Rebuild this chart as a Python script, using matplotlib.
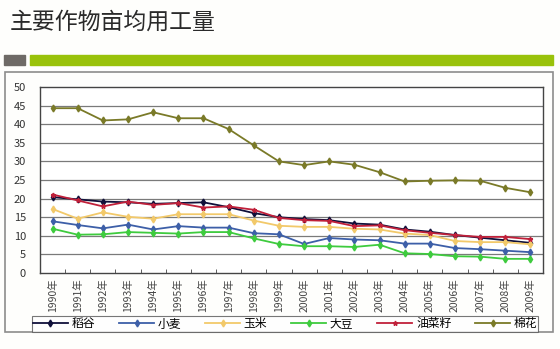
import matplotlib
matplotlib.use("Agg")
import matplotlib.pyplot as plt
from matplotlib.patches import Rectangle
import numpy as np

plt.rcParams['font.family'] = ['Noto Sans CJK SC', 'DejaVu Sans']

years = [f"{y}年" for y in range(1990, 2010)]
rice = [20.4, 19.8, 19.2, 19.0, 18.6, 18.8, 19.0, 17.7, 16.1, 15.0,
        14.5, 14.2, 13.3, 13.0, 11.7, 11.1, 10.2, 9.5, 8.8, 8.1]
wheat = [13.9, 12.9, 12.0, 13.0, 11.7, 12.6, 12.2, 12.2, 10.7, 10.4,
         7.8, 9.4, 9.0, 8.8, 7.9, 7.9, 6.7, 6.4, 6.0, 5.6]
corn = [17.2, 14.6, 16.3, 15.1, 14.6, 15.8, 15.8, 15.8, 14.1, 12.7,
        12.4, 12.4, 11.9, 11.7, 10.6, 10.2, 8.6, 8.3, 8.3, 7.7]
soy = [11.9, 10.3, 10.4, 11.0, 10.8, 10.6, 11.0, 11.0, 9.3, 7.8,
       7.2, 7.2, 7.0, 7.6, 5.3, 5.1, 4.5, 4.4, 3.8, 3.8]
rapeseed = [21.1, 19.5, 17.9, 19.2, 18.3, 18.8, 17.6, 17.9, 17.0, 14.8,
            14.2, 14.0, 12.6, 12.8, 11.5, 10.8, 10.2, 9.7, 9.7, 9.1]
cotton = [44.3, 44.3, 41.0, 41.3, 43.2, 41.6, 41.6, 38.7, 34.3, 30.0,
          29.0, 30.0, 29.1, 27.1, 24.6, 24.8, 24.9, 24.8, 22.9, 21.7]

series = [
    ("稻谷", rice, "#10103a", "d"),
    ("小麦", wheat, "#3d5fa8", "d"),
    ("玉米", corn, "#f2c96a", "d"),
    ("大豆", soy, "#3ecb3e", "d"),
    ("油菜籽", rapeseed, "#c0203a", "*"),
    ("棉花", cotton, "#7a7a28", "d"),
]

W, H = 560, 349
fig = plt.figure(figsize=(W / 100, H / 100), dpi=100)
fig.patch.set_facecolor("#fefefc")

# header decoration
fig.text(10 / W, 1 - 22 / H, "主要作物亩均用工量", fontsize=16.5, color="#2a2a2a",
         va="center", ha="left", fontweight="light")
fig.patches.append(Rectangle((4 / W, 1 - 65 / H), 21 / W, 10 / H,
                             transform=fig.transFigure, color="#6e6a66"))
fig.patches.append(Rectangle((30 / W, 1 - 65 / H), 523 / W, 10 / H,
                             transform=fig.transFigure, color="#99c20a"))
# chart frame
fig.patches.append(Rectangle((5 / W, 1 - 332 / H), 548 / W, 260 / H,
                             transform=fig.transFigure, fill=False,
                             edgecolor="#8c8c8c", lw=1.2))

ax = fig.add_axes([40 / W, 1 - 273 / H, 503 / W, 186 / H])
ax.set_facecolor("white")
x = np.arange(len(years))
for name, vals, col, mk in series:
    ax.plot(x, vals, color=col, marker=mk, markersize=3.5, lw=1.3, label=name)

ax.set_xlim(-0.5, len(years) - 0.5)
ax.set_ylim(0, 50)
ax.set_yticks(range(0, 51, 5))
ax.tick_params(axis="y", length=0, pad=10, labelsize=8, labelcolor="#333333")
for v in range(5, 50, 5):
    ax.axhline(v, color="#7a7a7a", lw=0.9, zorder=0)

ax.set_xticks(x)
ax.set_xticklabels(years, rotation=90, fontsize=7.5, color="#444444")
ax.tick_params(axis="x", length=0, pad=4)
ax.set_xticks(np.arange(-0.5, len(years), 1), minor=True)
ax.tick_params(axis="x", which="minor", direction="in", length=3, color="#444444")
for s in ax.spines.values():
    s.set_color("#444444")
    s.set_linewidth(1)

leg = fig.legend(loc="center", bbox_to_anchor=(285 / W, 1 - 324 / H), ncol=6,
                 fontsize=8.5, frameon=True, fancybox=False, edgecolor="#555555",
                 handlelength=3, columnspacing=2.0, borderpad=0.1,
                 handletextpad=0.3, borderaxespad=0)
leg.get_frame().set_linewidth(0.8)

fig.savefig("out.png", dpi=100, facecolor=fig.get_facecolor())
